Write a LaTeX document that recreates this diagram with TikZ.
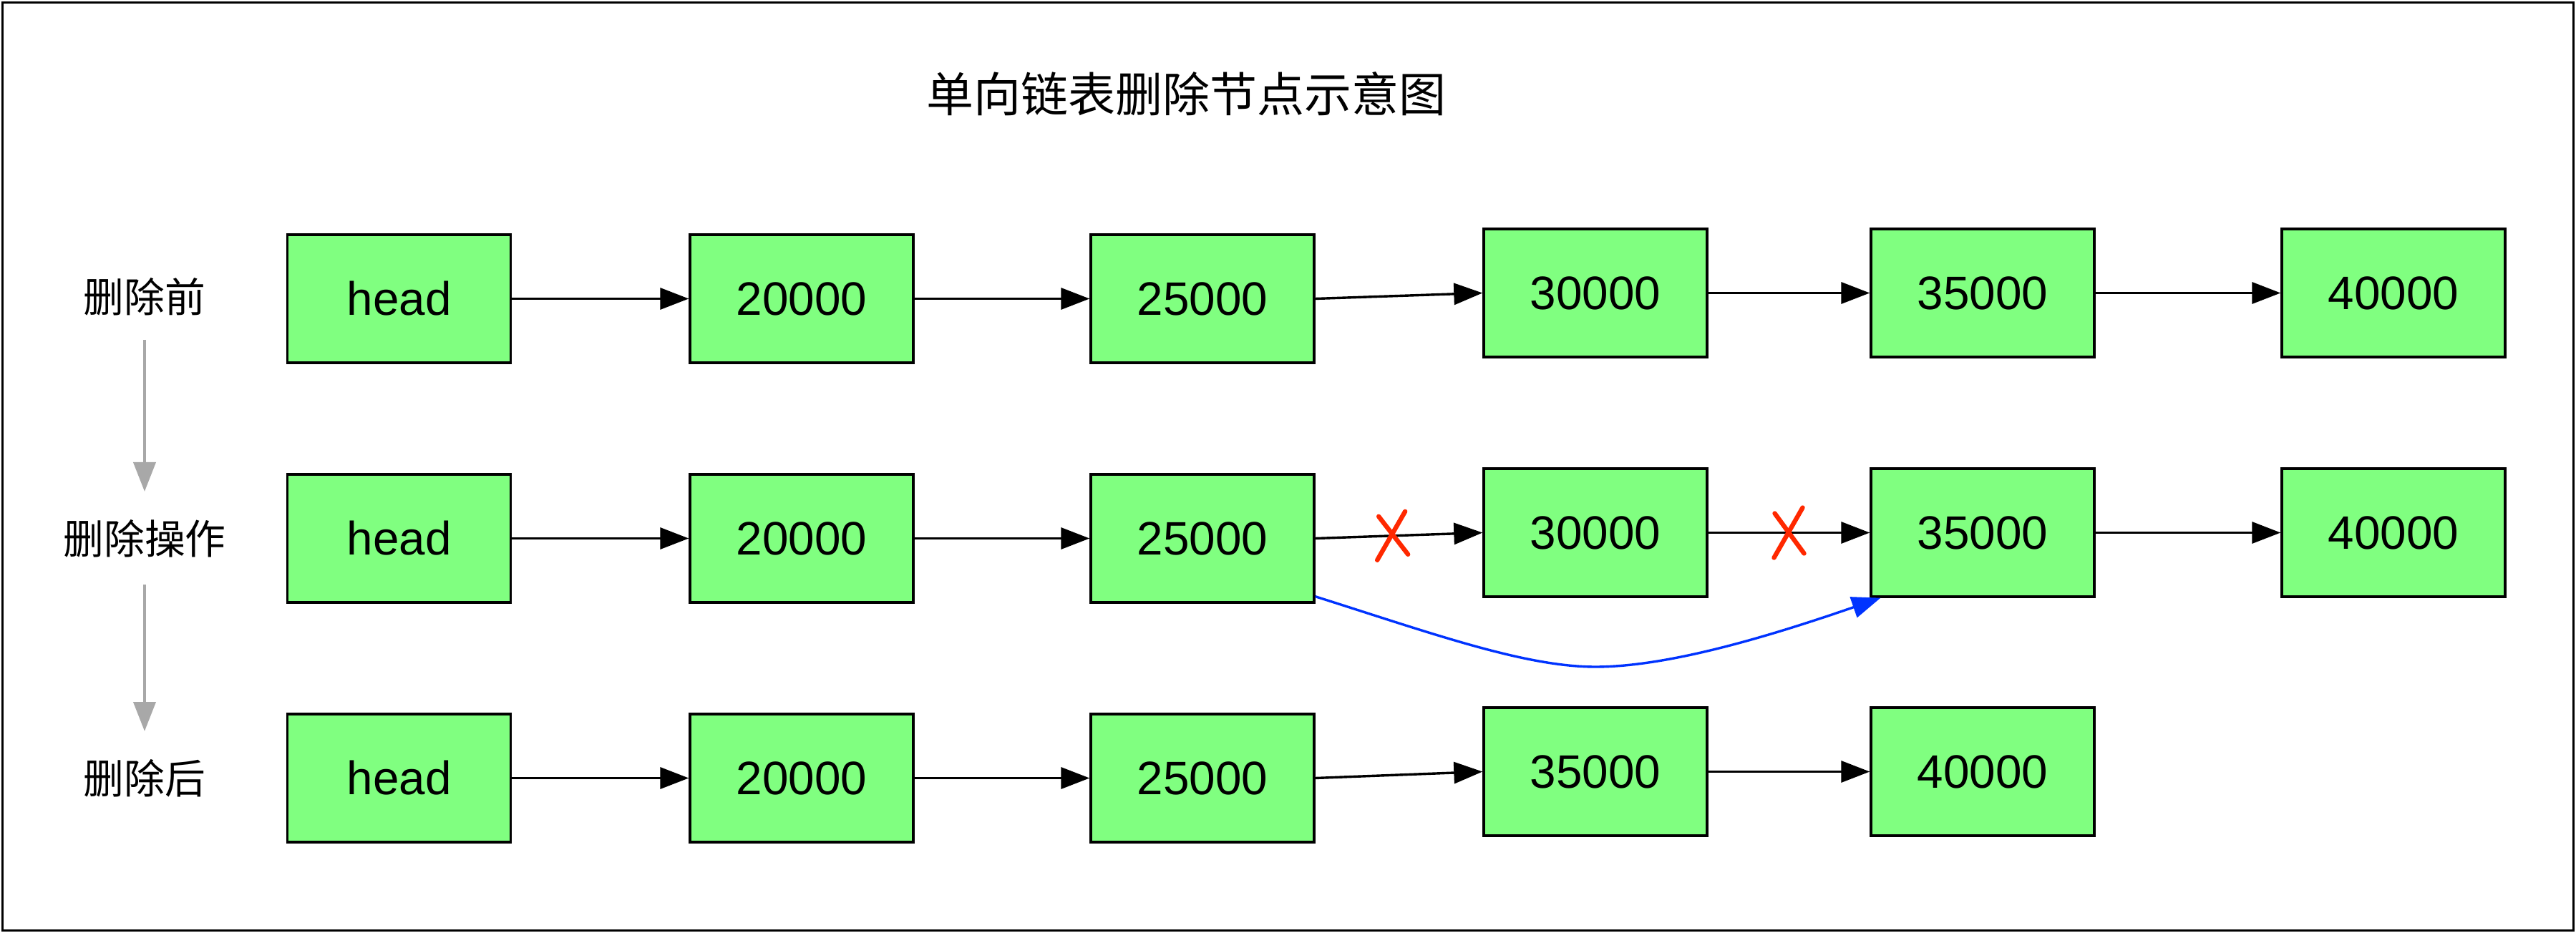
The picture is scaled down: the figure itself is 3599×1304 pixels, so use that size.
\documentclass[tikz,border=0pt]{standalone}
\usepackage{fontspec}
\setmainfont{Liberation Sans}
\newfontfamily\cjk{Noto Sans CJK SC}
\usetikzlibrary{arrows.meta}
\definecolor{boxgreen}{RGB}{128,255,128}
\definecolor{xred}{RGB}{255,40,0}
\definecolor{linkblue}{RGB}{0,51,255}
\definecolor{stepgray}{RGB}{168,168,168}
\tikzset{
  listnode/.style={draw=black, line width=0.85pt, fill=boxgreen, minimum width=78pt, minimum height=44.75pt, inner sep=0pt, font=\fontsize{16.4pt}{19pt}\selectfont},
  rowlabel/.style={inner sep=0pt, font=\cjk\fontsize{14.2pt}{17pt}\selectfont},
  link/.style={draw=black, line width=0.85pt, -{Triangle[length=10pt,width=7.5pt]}},
  newlink/.style={draw=linkblue, line width=0.85pt, -{Triangle[length=10pt,width=7.5pt]}},
  stagearrow/.style={draw=stepgray, line width=1pt, -{Triangle[length=10.25pt,width=7.75pt]}},
  cross/.style={draw=xred, line width=1.6pt, line cap=round}
}
\begin{document}
\begin{tikzpicture}[x=0.25pt,y=-0.25pt]
\useasboundingbox (0,0) rectangle (3599,1304);
\draw[line width=0.85pt] (3.5,3.5) rectangle (3595.5,1300.5);

\node[font=\cjk\fontsize{16.5pt}{20pt}\selectfont, inner sep=0pt] (title) at (1657,131) {单向链表删除节点示意图};

% row labels
\node[rowlabel] (l1) at (202,415) {删除前};
\node[rowlabel] (l2) at (202,753) {删除操作};
\node[rowlabel] (l3) at (202,1088) {删除后};
\draw[stagearrow] ([yshift=-15pt]l1.center) -- ([yshift=16.5pt]l2.center);
\draw[stagearrow] ([yshift=-16pt]l2.center) -- ([yshift=16.5pt]l3.center);

% row 1
\node[listnode] (a1) at (557.75,417.5) {head};
\node[listnode] (b1) at (1120,417.5) {20000};
\node[listnode] (c1) at (1680,417.5) {25000};
\node[listnode] (d1) at (2229,409.5) {30000};
\node[listnode] (e1) at (2770,409.5) {35000};
\node[listnode] (f1) at (3344,409.5) {40000};
\draw[link] (a1) -- (b1);
\draw[link] (b1) -- (c1);
\draw[link] (c1.east) -- (d1.west);
\draw[link] (d1) -- (e1);
\draw[link] (e1) -- (f1);

% row 2
\node[listnode] (a2) at (557.75,752.5) {head};
\node[listnode] (b2) at (1120,752.5) {20000};
\node[listnode] (c2) at (1680,752.5) {25000};
\node[listnode] (d2) at (2229,744.5) {30000};
\node[listnode] (e2) at (2770,744.5) {35000};
\node[listnode] (f2) at (3344,744.5) {40000};
\draw[link] (a2) -- (b2);
\draw[link] (b2) -- (c2);
\draw[link] (c2.east) -- coordinate[pos=0.46] (x1) (d2.west);
\draw[link] (d2) -- coordinate[pos=0.50] (x2) (e2);
\draw[link] (e2) -- (f2);
\draw[cross] (x1) ++(-19,-27) -- ++(41,53);
\draw[cross] (x1) ++(18,-34) -- ++(-39,68);
\draw[cross] (x2) ++(-20,-27) -- ++(41,56);
\draw[cross] (x2) ++(19,-35) -- ++(-40,70);
\coordinate (bs) at ([yshift=2.5pt]c2.south east);
\coordinate (be) at ([xshift=3.75pt]e2.south west);
\coordinate (bm) at (2229,932);
\draw[newlink] (bs) .. controls (2000,885) and (2130,932) .. (bm) .. controls (2330,932) and (2470,890) .. (be);

% row 3
\node[listnode] (a3) at (557.75,1087.5) {head};
\node[listnode] (b3) at (1120,1087.5) {20000};
\node[listnode] (c3) at (1680,1087.5) {25000};
\node[listnode] (d3) at (2229,1078.5) {35000};
\node[listnode] (e3) at (2770,1078.5) {40000};
\draw[link] (a3) -- (b3);
\draw[link] (b3) -- (c3);
\draw[link] (c3.east) -- (d3.west);
\draw[link] (d3) -- (e3);
\end{tikzpicture}
\end{document}
